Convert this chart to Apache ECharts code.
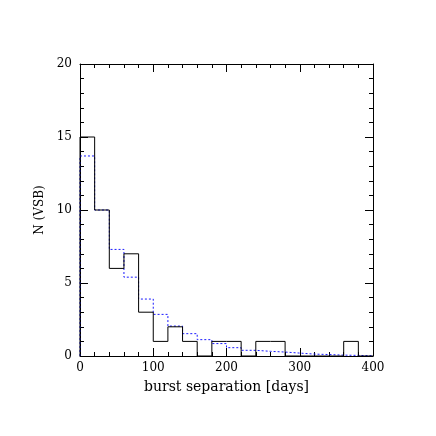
<!DOCTYPE html>
<html>
<head>
<meta charset="utf-8">
<script src="https://cdn.jsdelivr.net/npm/echarts@6/dist/echarts.min.js"></script>
<style>
html, body { margin: 0; padding: 0; background: #fff; }
#chart { width: 436px; height: 436px; }
</style>
</head>
<body>
<div id="chart"></div>
<script>
// bin edges every 20 days, 0..400
var binEdges = [0, 20, 40, 60, 80, 100, 120, 140, 160, 180, 200, 220, 240, 260, 280, 300, 320, 340, 360, 380, 400];
// observed counts (solid)
var observed = [15, 10, 6, 7, 3, 1, 2, 1, 0, 1, 1, 0, 1, 1, 0, 0, 0, 0, 1, 0];
// model (dotted blue)
var model = [13.7, 10, 7.3, 5.4, 3.9, 2.85, 2.05, 1.53, 1.12, 0.85, 0.57, 0.39, 0.32, 0.27, 0.2, 0.13, 0.1, 0.06, 0.04, 0.02];

var xTicks = [0, 100, 200, 300, 400];
var yTicks = [0, 5, 10, 15, 20];

// turn bin values into step points
function stepPoints(vals) {
	var pts = [[binEdges[0], 0]];
	for (var i = 0; i < vals.length; i++) {
		pts.push([binEdges[i], vals[i]]);
	}
	pts.push([binEdges[binEdges.length - 1], 0]);
	return pts;
}

var fontFam = 'DejaVu Serif';

function makeAxis(isX, pos, showLabels) {
	var ticks = isX ? xTicks : yTicks;
	return {
		type: 'value',
		position: pos,
		min: ticks[0],
		max: ticks[ticks.length - 1],
		interval: ticks[1] - ticks[0],
		axisLine: { show: true, onZero: false, lineStyle: { color: '#000', width: 1 } },
		axisTick: { show: true, inside: true, length: 8, lineStyle: { color: '#000' } },
		minorTick: { show: true, splitNumber: 5, length: 4, lineStyle: { color: '#000' } },
		splitLine: { show: false },
		axisLabel: {
			show: showLabels,
			color: '#000',
			fontFamily: fontFam,
			fontSize: 12,
			margin: isX ? 6 : 8
		}
	};
}

var chart = echarts.init(document.getElementById('chart'));

var xBottom = makeAxis(true, 'bottom', true);
xBottom.name = 'burst separation [days]';
xBottom.nameLocation = 'middle';
xBottom.nameGap = 24;
xBottom.nameTextStyle = { color: '#000', fontFamily: fontFam, fontSize: 14 };

var yLeft = makeAxis(false, 'left', true);
yLeft.name = 'N (VSB)';
yLeft.nameLocation = 'middle';
yLeft.nameGap = 32;
yLeft.nameTextStyle = { color: '#000', fontFamily: fontFam, fontSize: 12 };

var option = {
	animation: false,
	backgroundColor: '#fff',
	grid: { left: 80, right: 63, top: 64, bottom: 80 },
	xAxis: [xBottom, makeAxis(true, 'top', false)],
	yAxis: [yLeft, makeAxis(false, 'right', false)],
	series: [
		{
			type: 'line',
			step: 'end',
			data: stepPoints(model),
			symbol: 'none',
			lineStyle: { color: '#1a1aff', width: 1, type: [2, 2] },
			z: 2
		},
		{
			type: 'line',
			step: 'end',
			data: stepPoints(observed),
			symbol: 'none',
			lineStyle: { color: '#000', width: 1 },
			z: 3
		}
	]
};

chart.setOption(option);
</script>
</body>
</html>
